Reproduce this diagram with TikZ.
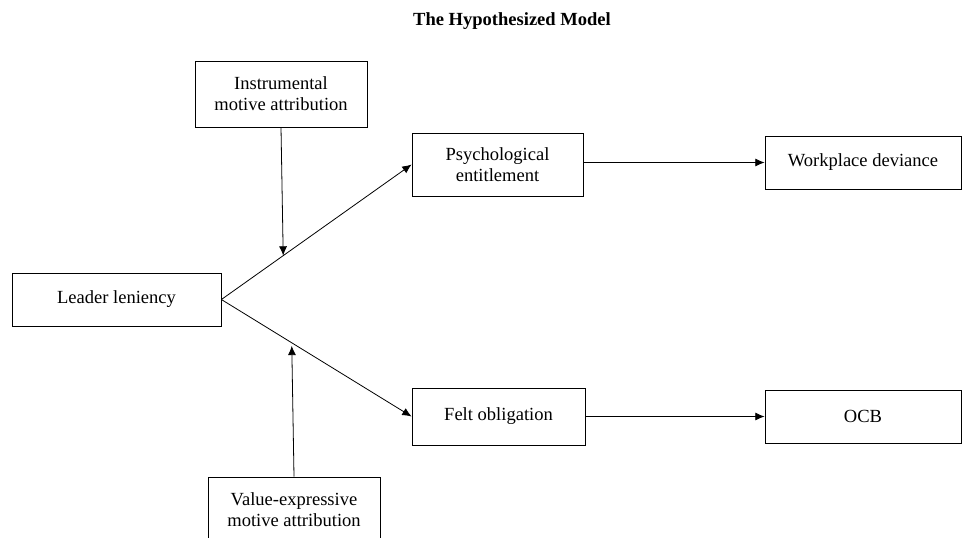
\documentclass[tikz,border=0pt]{standalone}
\usepackage{fontspec}
\setmainfont{Liberation Serif}
\usetikzlibrary{arrows.meta,calc}

\begin{document}
\begin{tikzpicture}[x=0.75pt,y=-0.75pt,line width=0.6pt,-{Latex[length=7pt,width=6pt]}]
      \tikzstyle{box}=[draw,rectangle,align=center,inner sep=0pt,font=\fontsize{13.9}{15.8}\selectfont]
      \useasboundingbox (0,0) rectangle (962,537);

      \node[font=\fontsize{13.9}{16}\selectfont\bfseries] (title) at (512,21) {The Hypothesized Model};

      \node[box,minimum width=129pt,minimum height=49.5pt] (instr) at (281,94) {Instrumental\\motive attribution};
      \node[box,minimum width=156.75pt,minimum height=39.75pt] (leader) at (116.5,299.5) {Leader leniency};
      \node[box,minimum width=129pt,minimum height=49.5pt] (value) at (294,510) {Value-expressive\\motive attribution};

      \node[box,minimum width=128.25pt,minimum height=47.25pt] (psych) at (497.5,164.5) {Psychological\\entitlement};
      \node[box,minimum width=129.75pt,minimum height=42.75pt] (felt) at (498.5,416.5) {Felt obligation};

      \node[box,minimum width=147pt,minimum height=39.75pt] (wd) at (863,162.5) {Workplace deviance};
      \node[box,minimum width=147pt,minimum height=39.75pt] (ocb) at (863,416.5) {OCB};

      \draw (leader.east) -- (psych.west);
      \draw (leader.east) -- (felt.west);
      \draw (psych.east |- wd) -- (wd);
      \draw (felt) -- (ocb);

      % moderators point at the two paths
      \coordinate (m1) at ($(leader.east)!0.325!(psych.west)$);
      \coordinate (m2) at ($(leader.east)!0.37!(felt.west)+(0,3)$);
      \draw (instr.south) -- (m1);
      \draw (value.north) -- (m2);
    \end{tikzpicture}
\end{document}
